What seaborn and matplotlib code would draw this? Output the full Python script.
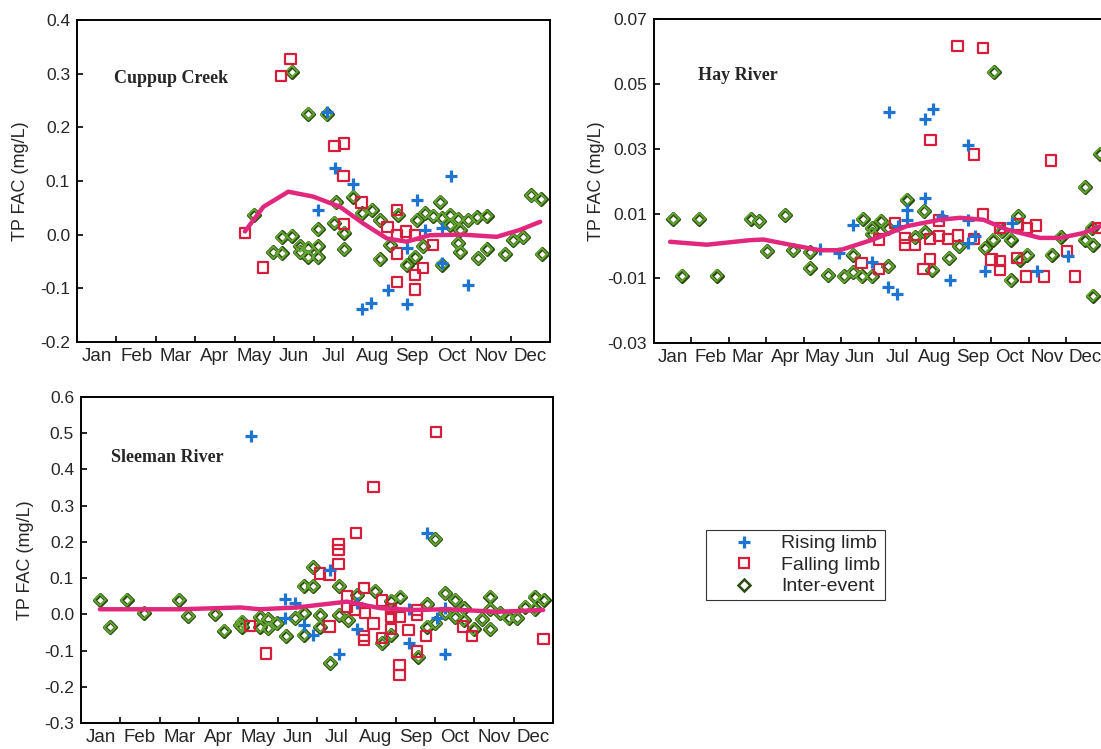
import matplotlib
matplotlib.use("Agg")
import matplotlib.pyplot as plt
import seaborn as sns
from matplotlib.lines import Line2D

sns.set_style("white")
plt.rcParams['font.family'] = ['Liberation Sans', 'DejaVu Sans']

MONTHS = ["Jan", "Feb", "Mar", "Apr", "May", "Jun", "Jul", "Aug", "Sep", "Oct", "Nov", "Dec"]
SERIES_LABELS = ["Rising limb", "Falling limb", "Inter-event"]

# ---------------- Cuppup Creek (x in months from 1 Jan, y TP FAC mg/L) ----------------
cc_rise_m = [6.33, 6.54, 7.01, 6.11, 7.22, 7.46, 7.90, 9.48, 8.62, 8.83, 9.25, 8.36, 9.25, 9.93, 8.36]
cc_rise_v = [0.229, 0.125, 0.094, 0.046, -0.138, -0.128, -0.104, 0.110, 0.065, 0.009, 0.012, -0.025, -0.053, -0.094, -0.129]
cc_fall_m = [4.26, 4.71, 5.42, 5.18, 6.53, 6.77, 6.76, 7.22, 6.78, 7.88, 8.11, 8.11, 8.35, 8.57, 9.04,
             8.11, 8.78, 8.57, 8.11, 8.57]
cc_fall_v = [0.003, -0.061, 0.327, 0.296, 0.165, 0.170, 0.109, 0.060, 0.020, 0.014, 0.046, 0.000, 0.006, 0.000, -0.019,
             -0.035, -0.062, -0.075, -0.088, -0.102]
cc_int_m = [4.49, 5.45, 5.87, 6.33, 7.01, 6.57, 6.11, 5.19, 5.45, 4.98, 5.19, 5.66, 5.87, 6.11, 5.66, 5.87, 6.11,
            6.78, 6.53, 6.78, 7.22, 7.48, 7.68, 9.22, 11.53, 11.76, 11.79, 10.86, 11.07, 11.32, 10.18, 10.39,
            8.62, 8.83, 9.04, 9.25, 9.46, 9.67, 9.93, 10.14, 10.39, 8.15, 9.46, 9.72, 9.67, 9.72, 8.78, 8.36,
            8.57, 9.25, 7.94, 7.69]
cc_int_v = [0.037, 0.304, 0.225, 0.224, 0.071, 0.060, 0.010, -0.005, -0.002, -0.033, -0.035, -0.021, -0.024, -0.021,
            -0.033, -0.041, -0.042, -0.027, 0.022, 0.004, 0.040, 0.046, -0.046, 0.061, 0.073, 0.066, -0.036, -0.036,
            -0.010, -0.005, -0.044, -0.027, 0.027, 0.040, 0.035, 0.031, 0.037, 0.029, 0.027, 0.032, 0.035, 0.037,
            0.018, 0.009, -0.016, -0.032, -0.022, -0.056, -0.041, -0.056, -0.019, 0.027]
cc_line_m = [4.26, 4.73, 5.36, 5.99, 6.67, 7.26, 7.86, 8.36, 8.95, 9.80, 10.65, 11.24, 11.75]
cc_line_v = [0.006, 0.052, 0.080, 0.071, 0.052, 0.021, -0.007, -0.013, -0.001, 0.000, -0.004, 0.009, 0.024]

# ---------------- Hay River ----------------
hr_rise_m = [5.32, 4.43, 4.93, 5.81, 6.25, 6.49, 6.28, 7.23, 7.45, 7.23, 6.74, 6.74, 6.52, 7.68, 7.90,
             8.39, 8.39, 8.39, 8.57, 8.83, 9.55, 10.21, 11.06]
hr_rise_v = [0.0066, -0.0009, -0.0021, -0.0050, -0.0126, -0.0147, 0.0413, 0.0392, 0.0421, 0.0148, 0.0112, 0.0081,
             0.0063, 0.0092, -0.0106, 0.0313, 0.0081, 0.0010, 0.0030, -0.0078, 0.0071, -0.0078, -0.0032]
hr_fall_m = [8.10, 8.79, 7.38, 8.54, 10.59, 8.79, 5.54, 6.01, 6.01, 6.43, 6.70, 6.70, 6.97, 7.37, 7.37, 7.19,
             7.61, 7.61, 7.85, 8.12, 8.54, 9.01, 9.23, 9.23, 9.68, 9.23, 9.70, 9.95, 10.19, 9.93, 10.41, 11.03,
             11.24, 11.86]
hr_fall_v = [0.0616, 0.0611, 0.0326, 0.0282, 0.0264, 0.0097, -0.0052, -0.0071, 0.0020, 0.0071, 0.0025, 0.0004,
             0.0004, 0.0022, -0.0040, -0.0071, 0.0079, 0.0030, 0.0022, 0.0032, 0.0022, -0.0042, -0.0047, -0.0073,
             -0.0037, 0.0056, 0.0066, 0.0056, 0.0063, -0.0094, -0.0094, -0.0016, -0.0094, 0.0056]
hr_int_m = [0.52, 0.74, 1.21, 1.67, 2.58, 2.81, 3.02, 3.50, 3.72, 4.16, 4.16, 4.65, 5.07, 5.32, 5.54, 5.81, 5.32,
            5.57, 5.81, 5.81, 6.05, 6.25, 6.25, 6.74, 6.97, 7.21, 7.23, 7.43, 7.88, 8.15, 9.07, 8.83, 9.06, 9.28,
            9.52, 9.52, 9.72, 9.77, 9.96, 10.61, 10.85, 11.50, 11.50, 11.71, 11.68, 11.71, 11.90]
hr_int_v = [0.0084, -0.0091, 0.0084, -0.0091, 0.0084, 0.0076, -0.0016, 0.0095, -0.0013, -0.0019, -0.0068, -0.0090,
            -0.0094, -0.0081, -0.0094, -0.0094, -0.0027, 0.0084, 0.0056, 0.0038, 0.0078, 0.0056, -0.0063, 0.0143,
            0.0027, 0.0107, 0.0042, -0.0073, -0.0037, -0.0001, 0.0536, -0.0006, 0.0020, 0.0045, 0.0020, -0.0106,
            0.0092, -0.0042, -0.0027, -0.0027, 0.0028, 0.0181, 0.0020, 0.0004, 0.0056, -0.0153, 0.0285]
hr_line_m = [0.43, 1.41, 2.56, 2.92, 3.63, 4.43, 4.96, 5.85, 6.74, 7.63, 8.17, 8.79, 9.41, 10.30, 10.84, 11.46, 11.90]
hr_line_v = [0.0013, 0.0004, 0.0018, 0.0020, 0.0004, -0.0013, -0.0013, 0.0020, 0.0061, 0.0081, 0.0087, 0.0081,
             0.0051, 0.0025, 0.0025, 0.0040, 0.0061]

# ---------------- Sleeman River ----------------
sr_rise_m = [4.32, 8.80, 5.19, 5.45, 5.19, 5.66, 5.91, 6.34, 6.57, 7.02, 7.02, 8.33, 8.33, 9.05, 9.26, 9.26]
sr_rise_v = [0.493, 0.225, 0.041, 0.032, -0.011, -0.030, -0.057, 0.122, -0.110, -0.041, 0.032, -0.080, 0.014,
             -0.011, -0.110, 0.017]
sr_fall_m = [9.03, 7.44, 7.00, 6.55, 6.55, 6.55, 6.08, 6.32, 4.30, 4.71, 6.32, 6.76, 7.20, 6.76, 6.97, 7.22, 7.44,
             7.20, 7.20, 7.65, 7.65, 7.88, 7.88, 7.88, 8.10, 8.10, 8.10, 8.33, 8.54, 8.54, 8.54, 8.78, 9.71, 9.94,
             11.76]
sr_fall_v = [0.504, 0.352, 0.225, 0.194, 0.178, 0.138, 0.113, 0.109, -0.032, -0.108, -0.034, 0.049, 0.072, 0.021,
             0.012, 0.004, -0.025, -0.060, -0.071, 0.038, -0.066, 0.014, -0.008, -0.041, -0.008, -0.140, -0.168,
             -0.043, 0.012, -0.002, -0.103, -0.060, -0.034, -0.060, -0.069]
sr_int_m = [0.48, 0.74, 1.16, 1.60, 2.49, 2.73, 3.41, 3.64, 4.05, 9.01, 5.90, 5.66, 5.90, 6.57, 4.09, 4.09, 4.55,
            4.76, 4.76, 4.55, 4.98, 5.21, 5.45, 5.66, 5.66, 6.08, 6.08, 6.57, 6.34, 6.80, 7.02, 7.48, 7.88, 8.12,
            7.65, 7.88, 8.80, 8.80, 9.01, 9.26, 9.52, 9.73, 9.26, 9.52, 9.73, 9.98, 10.20, 10.41, 10.41, 10.41,
            10.66, 10.87, 11.09, 11.30, 11.53, 11.76, 11.53, 8.58]
sr_int_v = [0.040, -0.036, 0.040, 0.004, 0.040, -0.005, 0.001, -0.045, -0.030, 0.207, 0.130, 0.078, 0.078, 0.078,
            -0.020, -0.034, -0.007, -0.014, -0.039, -0.034, -0.025, -0.060, -0.011, 0.003, -0.057, -0.002, -0.034,
            -0.002, -0.135, -0.016, 0.053, 0.065, 0.038, 0.049, -0.080, -0.057, 0.028, -0.034, -0.025, 0.058,
            0.040, 0.017, 0.003, -0.008, -0.016, -0.041, -0.014, 0.049, 0.014, -0.041, 0.003, -0.011, -0.011,
            0.021, 0.049, 0.040, 0.014, -0.117]
sr_line_m = [0.48, 2.52, 4.05, 4.55, 5.49, 6.76, 7.61, 8.46, 9.31, 10.58, 11.75]
sr_line_v = [0.014, 0.014, 0.019, 0.014, 0.019, 0.035, 0.017, 0.012, 0.014, 0.007, 0.012]

BLUE = "#1e74d2"
RED = "#d61e3c"
GREEN = "#62a830"
DARK = "#2c4a12"
PINK = "#e2287c"

W, H = 1101, 749
fig = plt.figure(figsize=(W / 100, H / 100), dpi=100)


def make_ax(left, top, right, bottom):
    return fig.add_axes([left / W, 1 - bottom / H, (right - left) / W, (bottom - top) / H])


def draw(ax, rm, rv, fm, fv, im, iv, lm, lv, ylim, yticks, fmt, title, txy, lpad):
    sns.lineplot(x=lm, y=lv, ax=ax, color=PINK, lw=3.2, sort=False, zorder=5)
    sns.scatterplot(x=im, y=iv, ax=ax, marker='D', s=34, color=DARK, facecolor='white',
                    edgecolor=DARK, linewidth=2.6, zorder=3)
    sns.scatterplot(x=im, y=iv, ax=ax, marker='D', s=34, color=GREEN, facecolor='none',
                    edgecolor=GREEN, linewidth=1.3, zorder=3.1)
    sns.scatterplot(x=fm, y=fv, ax=ax, marker='s', s=55, color=RED, facecolor='none',
                    edgecolor=RED, linewidth=1.6, zorder=4)
    sns.scatterplot(x=rm, y=rv, ax=ax, marker='+', s=80, color=BLUE, edgecolor=BLUE,
                    linewidth=2.3, zorder=4.5)
    ax.set_xlim(0, 12)
    ax.set_ylim(*ylim)
    ax.set_xticks(range(1, 12))
    ax.set_xticklabels([])
    ax.set_xticks([i + 0.5 for i in range(12)], minor=True)
    ax.set_xticklabels(MONTHS, minor=True, fontsize=13.5)
    ax.tick_params(axis='x', which='major', direction='in', length=4, width=1.2, color='black', bottom=True)
    ax.tick_params(axis='x', which='minor', length=0, pad=4, bottom=True)
    ax.set_yticks(yticks)
    ax.set_yticklabels([fmt.format(t) for t in yticks], fontsize=12.5)
    ax.tick_params(axis='y', direction='in', length=4, width=1.2, color='black', left=True, pad=5)
    for s in ax.spines.values():
        s.set_visible(True)
        s.set_color('black')
        s.set_linewidth(1.4)
    ax.set_xlabel("")
    ax.set_ylabel("TP FAC (mg/L)", fontsize=13, labelpad=lpad)
    ax.text(txy[0], txy[1], title, transform=ax.transAxes, ha='left', va='center',
            fontsize=13, fontweight='bold', family='Liberation Serif')


ax1 = make_ax(77, 20, 550, 342)
draw(ax1, cc_rise_m, cc_rise_v, cc_fall_m, cc_fall_v, cc_int_m, cc_int_v, cc_line_m, cc_line_v,
     (-0.2, 0.4), [-0.2, -0.1, 0.0, 0.1, 0.2, 0.3, 0.4], "{:.1f}", "Cuppup Creek", (0.078, 0.817), 8)

ax2 = make_ax(654, 19, 1103.6, 343.3)
draw(ax2, hr_rise_m, hr_rise_v, hr_fall_m, hr_fall_v, hr_int_m, hr_int_v, hr_line_m, hr_line_v,
     (-0.03, 0.07), [-0.03, -0.01, 0.01, 0.03, 0.05, 0.07], "{:.2f}", "Hay River", (0.098, 0.827), 2)

ax3 = make_ax(81, 397, 553, 723)
draw(ax3, sr_rise_m, sr_rise_v, sr_fall_m, sr_fall_v, sr_int_m, sr_int_v, sr_line_m, sr_line_v,
     (-0.3, 0.6), [-0.3, -0.2, -0.1, 0.0, 0.1, 0.2, 0.3, 0.4, 0.5, 0.6], "{:.1f}", "Sleeman River", (0.064, 0.813), 7)

handles = [
    Line2D([], [], ls='none', marker='+', ms=9, mew=2.3, color=BLUE),
    Line2D([], [], ls='none', marker='s', ms=7, mew=1.6, mfc='none', mec=RED),
    Line2D([], [], ls='none', marker='D', ms=6, mew=1.8, mfc='white', mec=DARK),
]
leg = fig.legend(handles, SERIES_LABELS, loc='upper left', bbox_to_anchor=(706 / W, 1 - 530 / H),
                 borderaxespad=0, frameon=True, fancybox=False, edgecolor='black', fontsize=14,
                 handlelength=3.4, handletextpad=0.2, borderpad=0.25, labelspacing=0.2)
leg.get_frame().set_linewidth(0.8)

fig.savefig("out.png", dpi=100)
